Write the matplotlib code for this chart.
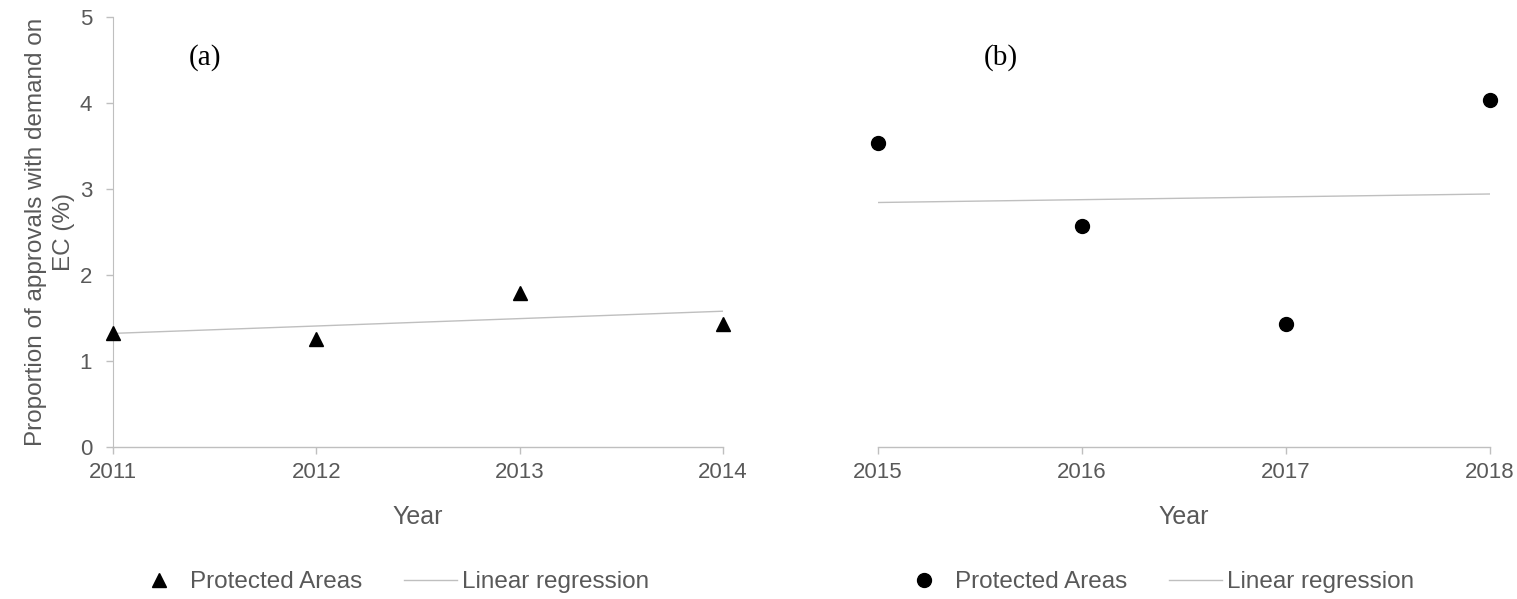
import matplotlib
matplotlib.use("Agg")
import matplotlib.pyplot as plt
from matplotlib.lines import Line2D
import numpy as np

# values
years_a = [2011, 2012, 2013, 2014]
prop_a = [1.32, 1.26, 1.79, 1.43]
years_b = [2015, 2016, 2017, 2018]
prop_b = [3.54, 2.57, 1.43, 4.03]

axis_grey = '#bfbfbf'
text_grey = '#595959'
plt.rcParams['font.family'] = ['Liberation Sans', 'DejaVu Sans']

fig = plt.figure(figsize=(15.17, 5.99), dpi=100)
W, H = 1517, 599
ax_a = fig.add_axes([113 / W, 1 - 447 / H, (723 - 113) / W, (447 - 17) / H])
ax_b = fig.add_axes([878 / W, 1 - 447 / H, (1490 - 878) / W, (447 - 17) / H])


def style_axis(ax, years, show_y):
    ax.set_xlim(years[0], years[-1])
    ax.set_ylim(0, 5)
    ax.set_xticks(years)
    ax.set_xticklabels([str(y) for y in years])
    for s in ['top', 'right']:
        ax.spines[s].set_visible(False)
    ax.spines['bottom'].set_color(axis_grey)
    ax.spines['bottom'].set_linewidth(1.0)
    ax.tick_params(axis='x', colors=axis_grey, length=5, width=1.0,
                   labelcolor=text_grey, labelsize=16, pad=6)
    if show_y:
        ax.spines['left'].set_color(axis_grey)
        ax.set_yticks([0, 1, 2, 3, 4, 5])
        ax.tick_params(axis='y', colors=axis_grey, length=5, width=1.0,
                       labelcolor=text_grey, labelsize=16, pad=10)
    else:
        ax.spines['left'].set_visible(False)
        ax.set_yticks([])
    ax.set_xlabel('Year', fontsize=18, color=text_grey, labelpad=16)
    for sp in ax.spines.values():
        sp.set_clip_on(False)


def draw_panel(ax, years, vals, marker, label, lx):
    x = np.array(years, dtype=float)
    y = np.array(vals)
    k, b = np.polyfit(x, y, 1)
    ax.plot(x, k * x + b, color=axis_grey, lw=1.0, zorder=2)
    ax.plot(x, y, linestyle='none', marker=marker, color='black',
            markersize=10, clip_on=False, zorder=3)
    ax.text(lx, 0.905, label, transform=ax.transAxes,
            fontsize=21, family='Liberation Serif', ha='center', va='center')


draw_panel(ax_a, years_a, prop_a, '^', '(a)', (205 - 113) / 610)
draw_panel(ax_b, years_b, prop_b, 'o', '(b)', (1001 - 878) / 612)
style_axis(ax_a, years_a, True)
style_axis(ax_b, years_b, False)

ax_a.set_ylabel('Proportion of approvals with demand on\nEC (%)', fontsize=17.5,
                color=text_grey, linespacing=1.35)
ax_a.yaxis.set_label_coords((75 - 113) / 610, 0.5)

# legends under each panel, placed in figure pixels
for x0, marker in [(132, '^'), (897, 'o')]:
    handles = [
        Line2D([], [], linestyle='none', marker=marker, color='black', markersize=10),
        Line2D([], [], color=axis_grey, lw=1.0),
    ]
    fig.legend(handles, ['Protected Areas', 'Linear regression'],
               loc='center left', bbox_to_anchor=(x0 / W, 1 - 582 / H),
               ncol=2, frameon=False, fontsize=17.5, labelcolor=text_grey,
               handlelength=2.2, columnspacing=1.7, handletextpad=0.2,
               borderpad=0, borderaxespad=0)

fig.savefig('out.png', dpi=100)
